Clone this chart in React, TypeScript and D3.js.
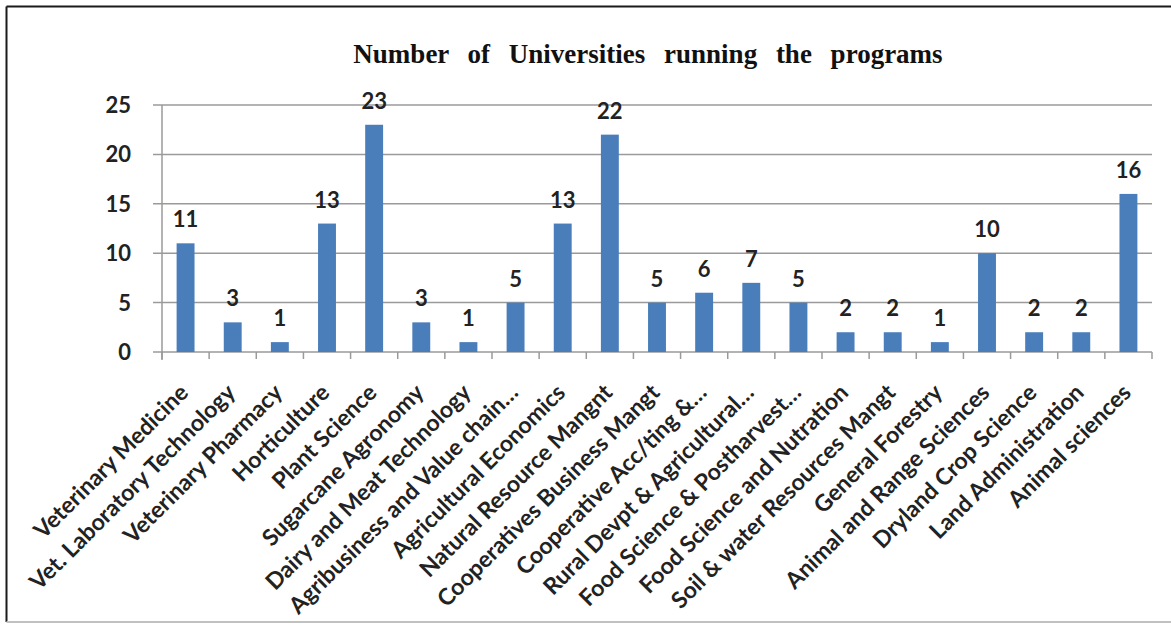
import React from "react";
import * as d3 from "d3";

// chart data
const categories = [
  "Veterinary Medicine",
  "Vet. Laboratory Technology",
  "Veterinary Pharmacy",
  "Horticulture",
  "Plant Science",
  "Sugarcane Agronomy",
  "Dairy and Meat Technology",
  "Agribusiness and Value chain…",
  "Agricultural Economics",
  "Natural Resource Mangnt",
  "Cooperatives Business Mangt",
  "Cooperative Acc/ting &…",
  "Rural Devpt & Agricultural…",
  "Food Science & Postharvest…",
  "Food Science and Nutration",
  "Soil & water Resources Mangt",
  "General Forestry",
  "Animal and Range Sciences",
  "Dryland Crop Science",
  "Land Administration",
  "Animal sciences",
];
const values = [11, 3, 1, 13, 23, 3, 1, 5, 13, 22, 5, 6, 7, 5, 2, 2, 1, 10, 2, 2, 16];
const yTicks = [0, 5, 10, 15, 20, 25];
const title = "Number of Universities running the programs";

const W = 1171;
const H = 625;
const plot = { left: 162, right: 1152, top: 105, bottom: 352 };
const sans = "Lato, 'Open Sans', sans-serif";
const barColor = "#4a7ebb";
const gridColor = "#9a9a9a";

export default function App() {
  const x = d3
    .scaleBand<string>()
    .domain(categories)
    .range([plot.left, plot.right])
    .paddingInner(0.62)
    .paddingOuter(0.31);
  const y = d3.scaleLinear().domain([0, 25]).range([plot.bottom, plot.top]);
  const step = x.step();
  const bounds = d3.range(categories.length + 1).map((i) => plot.left + i * step);

  return (
    <svg
      width={W}
      height={H}
      style={{ position: "absolute", left: 0, top: 0, background: "#fff" }}
    >
      {/* frame */}
      <line x1={6.5} x2={W} y1={6.5} y2={6.5} stroke="#1a1a1a" strokeWidth={2} />
      <line x1={6.5} x2={6.5} y1={6.5} y2={622} stroke="#1a1a1a" strokeWidth={2} />
      <line x1={6.5} x2={W} y1={622} y2={622} stroke="#c0c0c0" strokeWidth={2} />

      <text
        x={648}
        y={63}
        textAnchor="middle"
        fontFamily="'Liberation Serif', 'Times New Roman', serif"
        fontWeight="bold"
        fontSize={27}
        wordSpacing={12}
        fill="#111"
      >
        {title}
      </text>

      {/* gridlines + y ticks */}
      {yTicks.map((t) => (
        <g key={t}>
          <line
            x1={plot.left - 9}
            x2={plot.right}
            y1={y(t)}
            y2={y(t)}
            stroke={gridColor}
            strokeWidth={1.5}
          />
          <text
            x={131}
            y={y(t)}
            dy="0.36em"
            textAnchor="end"
            fontFamily={sans}
            fontWeight="bold"
            fontSize={22}
            fill="#222"
          >
            {t}
          </text>
        </g>
      ))}

      {/* y axis */}
      <line
        x1={plot.left}
        x2={plot.left}
        y1={plot.top}
        y2={plot.bottom + 8}
        stroke={gridColor}
        strokeWidth={1.5}
      />
      {/* x ticks */}
      {bounds.map((b, i) => (
        <line
          key={i}
          x1={b}
          x2={b}
          y1={plot.bottom}
          y2={plot.bottom + 7}
          stroke={gridColor}
          strokeWidth={1.5}
        />
      ))}

      {/* bars */}
      {categories.map((c, i) => (
        <rect
          key={c}
          x={x(c)}
          y={y(values[i])}
          width={x.bandwidth()}
          height={plot.bottom - y(values[i])}
          fill={barColor}
        />
      ))}

      {/* value labels */}
      {categories.map((c, i) => (
        <text
          key={c}
          x={(x(c) ?? 0) + x.bandwidth() / 2}
          y={y(values[i]) - 16}
          textAnchor="middle"
          fontFamily={sans}
          fontWeight="bold"
          fontSize={22}
          fill="#222"
        >
          {values[i]}
        </text>
      ))}

      {/* category labels */}
      {categories.map((c) => {
        const cx = (x(c) ?? 0) + x.bandwidth() / 2 + 4;
        const cy = plot.bottom + 42;
        return (
          <text
            key={c}
            transform={`translate(${cx},${cy}) rotate(-45)`}
            textAnchor="end"
            fontFamily={sans}
            fontWeight="bold"
            fontSize={23}
            fill="#222"
          >
            {c}
          </text>
        );
      })}
    </svg>
  );
}
